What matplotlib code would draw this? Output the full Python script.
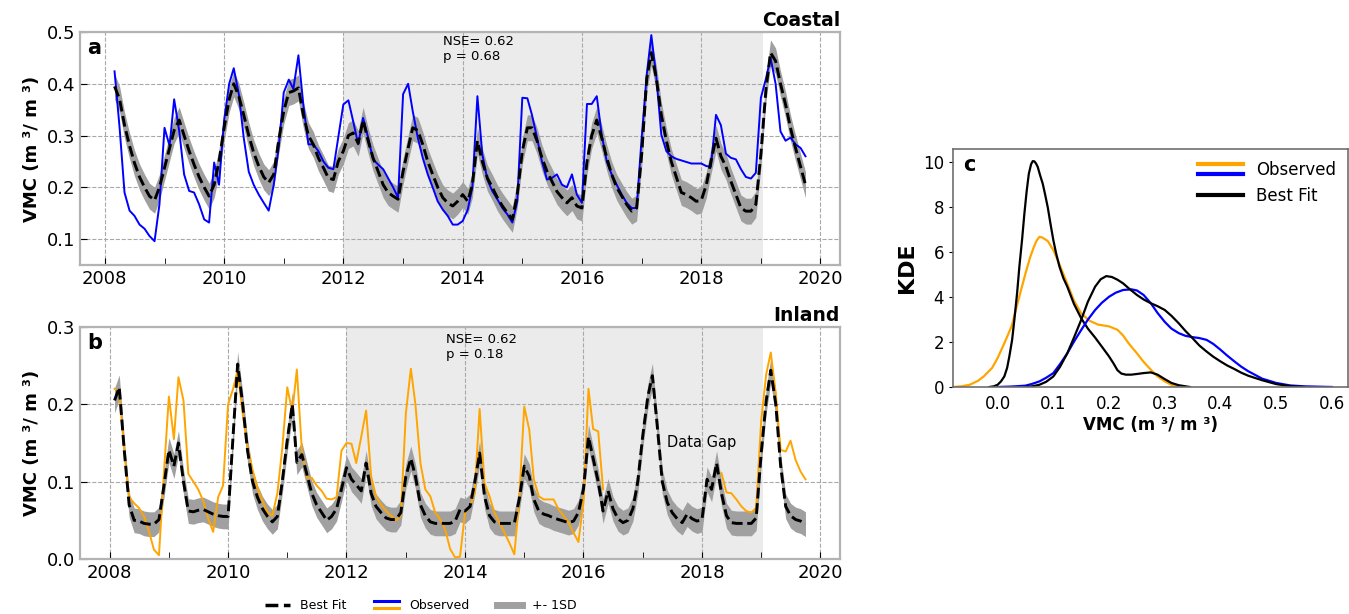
import numpy as np
import pandas as pd
import matplotlib
matplotlib.use("Agg")
import matplotlib.pyplot as plt
import matplotlib.dates as mdates
from matplotlib.lines import Line2D
from matplotlib.legend_handler import HandlerBase

nan = np.nan

# ---------- data ----------
# coastal: monthly, Mar 2008 - Oct 2019
coastal_start, coastal_end = "2008-03-01", "2019-10-01"
coastal_best = [
    0.395, 0.37, 0.32, 0.28, 0.247, 0.22, 0.20, 0.183, 0.175, 0.20,
    0.238, 0.276, 0.31, 0.33, 0.30, 0.27, 0.244, 0.22, 0.20, 0.183, 0.205, 0.25,
    0.315, 0.37, 0.40, 0.376, 0.34, 0.30, 0.267, 0.241, 0.22, 0.209, 0.225, 0.29,
    0.347, 0.383, 0.386, 0.392, 0.34, 0.30, 0.283, 0.257, 0.238, 0.218, 0.215, 0.25,
    0.27, 0.30, 0.305, 0.285, 0.33, 0.29, 0.257, 0.231, 0.205, 0.19, 0.183, 0.177,
    0.231, 0.276, 0.315, 0.31, 0.283, 0.25, 0.225, 0.20, 0.18, 0.17, 0.164, 0.173,
    0.186, 0.173, 0.205, 0.29, 0.25, 0.218, 0.20, 0.18, 0.164, 0.151, 0.138, 0.186,
    0.27, 0.315, 0.315, 0.29, 0.257, 0.231, 0.212, 0.192, 0.18, 0.17, 0.18, 0.164,
    0.16, 0.25, 0.30, 0.33, 0.296, 0.257, 0.225, 0.20, 0.183, 0.167, 0.154, 0.16,
    0.264, 0.41, 0.46, 0.41, 0.34, 0.29, 0.25, 0.22, 0.19, 0.186, 0.18, 0.173,
    0.175, 0.205, 0.25, 0.295, 0.26, 0.24, 0.212, 0.186, 0.16, 0.154, 0.154, 0.167,
    0.264, 0.39, 0.46, 0.444, 0.40, 0.36, 0.315, 0.276, 0.24, 0.205,
]
coastal_obs = [
    0.424, 0.315, 0.19, 0.155, 0.145, 0.128, 0.12, 0.106, 0.096, 0.167,
    0.315, 0.28, 0.37, 0.309, 0.225, 0.193, 0.19, 0.167, 0.138, 0.132, 0.248, 0.205,
    0.33, 0.40, 0.43, 0.38, 0.296, 0.23, 0.205, 0.186, 0.17, 0.155, 0.205, 0.276,
    0.383, 0.408, 0.39, 0.455, 0.36, 0.283, 0.283, 0.27, 0.25, 0.238, 0.235, 0.296,
    0.36, 0.368, 0.328, 0.283, 0.334, 0.296, 0.254, 0.244, 0.235, 0.218, 0.20, 0.18,
    0.38, 0.40, 0.347, 0.296, 0.257, 0.225, 0.20, 0.173, 0.157, 0.145, 0.128, 0.128,
    0.135, 0.157, 0.20, 0.376, 0.264, 0.215, 0.193, 0.177, 0.16, 0.148, 0.132, 0.173,
    0.373, 0.372, 0.34, 0.296, 0.25, 0.215, 0.218, 0.225, 0.205, 0.20, 0.225, 0.186,
    0.17, 0.361, 0.361, 0.376, 0.302, 0.25, 0.225, 0.205, 0.186, 0.17, 0.16, 0.16,
    0.296, 0.418, 0.494, 0.412, 0.302, 0.27, 0.26, 0.255, 0.252, 0.249, 0.246, 0.246,
    0.246, 0.241, 0.24, 0.34, 0.32, 0.265, 0.257, 0.254, 0.235, 0.22, 0.217, 0.228,
    0.373, 0.41, 0.45, 0.40, 0.308, 0.29, 0.296, 0.283, 0.276, 0.26,
]
coastal_sd = 0.025

# inland: monthly, Feb 2008 - Oct 2019
inland_start, inland_end = "2008-02-01", "2019-10-01"
inland_best = [
    0.205, 0.222, 0.14, 0.07, 0.05, 0.049, 0.046, 0.045, 0.045, 0.051, 0.094,
    0.141, 0.12, 0.15, 0.10, 0.062, 0.061, 0.063, 0.064, 0.061, 0.058, 0.056, 0.055,
    0.055, 0.16, 0.252, 0.20, 0.14, 0.10, 0.08, 0.065, 0.055, 0.048, 0.055, 0.10,
    0.154, 0.20, 0.125, 0.135, 0.11, 0.085, 0.07, 0.06, 0.05, 0.055, 0.065, 0.09,
    0.118, 0.103, 0.096, 0.088, 0.124, 0.085, 0.068, 0.06, 0.053, 0.051, 0.051, 0.06,
    0.107, 0.13, 0.107, 0.07, 0.056, 0.048, 0.046, 0.046, 0.046, 0.046, 0.049, 0.064,
    0.062, 0.068, 0.098, 0.137, 0.081, 0.056, 0.048, 0.046, 0.046, 0.046, 0.046, 0.077,
    0.12, 0.107, 0.077, 0.062, 0.058, 0.056, 0.053, 0.051, 0.049, 0.047, 0.049, 0.06,
    0.09, 0.158, 0.13, 0.10, 0.062, 0.088, 0.065, 0.052, 0.047, 0.05, 0.065, 0.10,
    0.16, 0.21, 0.237, 0.17, 0.10, 0.073, 0.06, 0.052, 0.047, 0.058, 0.052, 0.049,
    0.051, 0.103, 0.09, 0.124, 0.085, 0.056, 0.047, 0.046, 0.046, 0.046, 0.046, 0.053,
    0.137, 0.205, 0.244, 0.20, 0.12, 0.068, 0.056, 0.051, 0.049, 0.045,
]
inland_obs = [
    0.22, 0.215, 0.14, 0.08, 0.072, 0.066, 0.055, 0.035, 0.012, 0.005, 0.11,
    0.21, 0.155, 0.235, 0.205, 0.11, 0.10, 0.09, 0.075, 0.052, 0.035, 0.08, 0.095,
    0.20, 0.22, 0.244, 0.188, 0.145, 0.115, 0.092, 0.075, 0.06, 0.056, 0.085, 0.143,
    0.222, 0.19, 0.245, 0.14, 0.105, 0.105, 0.095, 0.088, 0.078, 0.077, 0.08, 0.14,
    0.15, 0.149, 0.124, 0.158, 0.192, 0.107, 0.081, 0.07, 0.062, 0.056, 0.05, 0.056,
    0.188, 0.246, 0.20, 0.124, 0.09, 0.081, 0.06, 0.051, 0.038, 0.013, 0.002, 0.003,
    0.06, 0.068, 0.085, 0.194, 0.098, 0.081, 0.06, 0.047, 0.034, 0.021, 0.006, 0.077,
    0.197, 0.167, 0.103, 0.081, 0.077, 0.077, 0.077, 0.064, 0.056, 0.047, 0.034, 0.022,
    0.073, 0.22, 0.168, 0.165, 0.09, nan, nan, nan, nan, nan, nan, nan,
    nan, nan, nan, nan, nan, nan, nan, nan, nan, nan, nan, nan,
    nan, nan, nan, nan, 0.111, 0.086, 0.085, 0.077, 0.068, 0.062, 0.06, 0.066,
    0.179, 0.239, 0.267, 0.214, 0.141, 0.139, 0.153, 0.128, 0.113, 0.103,
]
inland_sd = 0.016

calib_start, calib_end = "2012-01-01", "2019-01-15"

# KDE curves (panel c)
kde_x_inland_obs = [-0.08, -0.065, -0.05, -0.035, -0.025, -0.01, 0.0, 0.012, 0.025, 0.037, 0.05,
                    0.058, 0.065, 0.07, 0.075, 0.08, 0.09, 0.1, 0.112, 0.125, 0.137,
                    0.15, 0.165, 0.18, 0.2, 0.215, 0.225, 0.235, 0.25, 0.262, 0.275,
                    0.287, 0.3, 0.312, 0.325]
kde_y_inland_obs = [0.0, 0.03, 0.1, 0.28, 0.47, 0.85, 1.29, 1.95, 2.7, 3.85, 5.06,
                    5.75, 6.24, 6.52, 6.69, 6.66, 6.5, 6.1, 5.4, 4.6, 3.85,
                    3.28, 2.95, 2.78, 2.7, 2.55, 2.3, 1.95, 1.5, 1.12, 0.77,
                    0.47, 0.25, 0.1, 0.03]
kde_x_inland_fit = [-0.015, -0.007, 0.0, 0.006, 0.012, 0.017, 0.021, 0.026, 0.03, 0.035, 0.039,
                    0.044, 0.048, 0.052, 0.056, 0.06, 0.063, 0.066, 0.069, 0.072, 0.076,
                    0.081, 0.085, 0.09, 0.095, 0.1, 0.105, 0.111, 0.118, 0.125, 0.137,
                    0.15, 0.162, 0.175, 0.187, 0.2, 0.208, 0.215, 0.222, 0.23, 0.24,
                    0.25, 0.262, 0.275, 0.287, 0.3, 0.312, 0.325, 0.345]
kde_y_inland_fit = [0.0, 0.03, 0.1, 0.25, 0.47, 0.85, 1.36, 2.1, 2.99, 4.2, 5.36,
                    6.6, 7.72, 8.7, 9.5, 9.92, 10.06, 10.05, 9.95, 9.8, 9.45,
                    9.05, 8.6, 8.0, 7.25, 6.54, 5.95, 5.36, 4.85, 4.47, 3.7,
                    3.06, 2.6, 2.2, 1.8, 1.36, 1.05, 0.75, 0.6, 0.55, 0.55,
                    0.58, 0.62, 0.65, 0.55, 0.35, 0.18, 0.08, 0.0]
kde_x_coastal_obs = [0.0, 0.025, 0.05, 0.062, 0.075, 0.087, 0.1, 0.112, 0.125, 0.137, 0.15,
                     0.162, 0.175, 0.187, 0.2, 0.212, 0.225, 0.24, 0.25, 0.262, 0.275,
                     0.287, 0.3, 0.312, 0.325, 0.337, 0.35, 0.362, 0.375, 0.387, 0.4,
                     0.412, 0.425, 0.437, 0.45, 0.475, 0.5, 0.525, 0.55, 0.6]
kde_y_coastal_obs = [0.0, 0.02, 0.06, 0.14, 0.25, 0.41, 0.62, 1.02, 1.5, 2.02, 2.54,
                     3.0, 3.43, 3.75, 4.02, 4.2, 4.32, 4.35, 4.3, 4.1, 3.73,
                     3.3, 2.9, 2.6, 2.4, 2.28, 2.22, 2.18, 2.1, 1.92, 1.66,
                     1.4, 1.14, 0.91, 0.7, 0.37, 0.18, 0.07, 0.03, 0.0]
kde_x_coastal_fit = [0.05, 0.062, 0.075, 0.087, 0.1, 0.112, 0.125, 0.137, 0.15, 0.162, 0.175,
                     0.185, 0.195, 0.205, 0.215, 0.225, 0.237, 0.25, 0.262, 0.275, 0.287,
                     0.3, 0.312, 0.325, 0.337, 0.35, 0.362, 0.375, 0.387, 0.4, 0.412,
                     0.425, 0.437, 0.45, 0.475, 0.5, 0.525, 0.55]
kde_y_coastal_fit = [0.0, 0.03, 0.1, 0.23, 0.47, 0.9, 1.5, 2.2, 2.99, 3.8, 4.47,
                     4.8, 4.94, 4.9, 4.78, 4.62, 4.36, 4.1, 3.9, 3.73, 3.6,
                     3.43, 3.17, 2.84, 2.5, 2.17, 1.85, 1.58, 1.35, 1.14, 0.96,
                     0.8, 0.64, 0.5, 0.3, 0.13, 0.04, 0.0]


class StackedLines(HandlerBase):
    # draws the lines of a tuple handle one above the other
    def create_artists(self, legend, orig_handle, xdescent, ydescent, width, height, fontsize, trans):
        arts = []
        n = len(orig_handle)
        for i, h in enumerate(orig_handle):
            y = -ydescent + height * (0.95 - 0.9 * i / max(n - 1, 1))
            arts.append(Line2D([-xdescent, -xdescent + width], [y, y], color=h.get_color(),
                               lw=h.get_linewidth(), transform=trans))
        return arts


def style_ts(ax):
    ax.axvspan(pd.Timestamp(calib_start), pd.Timestamp(calib_end), color="#ecebec", lw=0, zorder=0)
    ax.grid(True, which="major", ls="--", color="#a8a8a8", lw=0.8)
    ax.xaxis.set_major_locator(mdates.YearLocator(2))
    ax.xaxis.set_minor_locator(mdates.YearLocator(1))
    ax.xaxis.set_major_formatter(mdates.DateFormatter("%Y"))
    ax.tick_params(which="both", direction="in", length=5, labelsize=13, color="black")
    for s in ax.spines.values():
        s.set_color("#b3b3b3")
        s.set_linewidth(1.6)
    ax.set_ylabel("VMC (m ³/ m ³)", fontsize=13, fontweight="bold")


fig = plt.figure(figsize=(13.49, 6.14), dpi=100)
ax1 = fig.add_axes([0.0593, 0.5684, 0.5634, 0.3795])
ax2 = fig.add_axes([0.0593, 0.0896, 0.5634, 0.3779])
ax3 = fig.add_axes([0.7065, 0.3697, 0.2928, 0.3876])

# ---- a: coastal ----
dates_c = pd.date_range(coastal_start, coastal_end, freq="MS")
best_c = np.array(coastal_best)
ax1.fill_between(dates_c, best_c - coastal_sd, best_c + coastal_sd, color="#a0a0a0", lw=0, zorder=2)
ax1.plot(dates_c, coastal_obs, color="blue", lw=1.4, zorder=3)
ax1.plot(dates_c, best_c, "--", color="black", lw=2.1, zorder=4)
style_ts(ax1)
ax1.set_ylim(0.05, 0.5)
ax1.set_yticks([0.1, 0.2, 0.3, 0.4, 0.5])
ax1.set_title("Coastal", loc="right", fontsize=13.5, fontweight="bold", pad=4)
ax1.text(0.01, 0.975, "a", transform=ax1.transAxes, fontsize=15, fontweight="bold", va="top")
ax1.text(0.478, 0.985, "NSE= 0.62\np = 0.68", transform=ax1.transAxes, fontsize=9.5, va="top")

# ---- b: inland ----
dates_i = pd.date_range(inland_start, inland_end, freq="MS")
best_i = np.array(inland_best)
ax2.fill_between(dates_i, best_i - inland_sd, best_i + inland_sd, color="#a0a0a0", lw=0, zorder=2)
ax2.plot(dates_i, inland_obs, color="orange", lw=1.4, zorder=3)
ax2.plot(dates_i, best_i, "--", color="black", lw=2.1, zorder=4)
style_ts(ax2)
ax2.set_ylim(0, 0.3)
ax2.set_yticks([0.0, 0.1, 0.2, 0.3])
ax2.set_title("Inland", loc="right", fontsize=13.5, fontweight="bold", pad=4)
ax2.text(0.01, 0.975, "b", transform=ax2.transAxes, fontsize=15, fontweight="bold", va="top")
ax2.text(0.482, 0.975, "NSE= 0.62\np = 0.18", transform=ax2.transAxes, fontsize=9.5, va="top")
ax2.text(pd.Timestamp("2017-06-01"), 0.151, "Data Gap", fontsize=10.5, va="center")

# ---- c: KDE ----
ax3.plot(kde_x_inland_obs, kde_y_inland_obs, color="orange", lw=1.6)
ax3.plot(kde_x_inland_fit, kde_y_inland_fit, color="black", lw=1.6)
ax3.plot(kde_x_coastal_obs, kde_y_coastal_obs, color="blue", lw=1.6)
ax3.plot(kde_x_coastal_fit, kde_y_coastal_fit, color="black", lw=1.6)
ax3.set_xlim(-0.08, 0.629)
ax3.set_ylim(0, 10.6)
ax3.set_xticks([0.0, 0.1, 0.2, 0.3, 0.4, 0.5, 0.6])
ax3.set_yticks([0, 2, 4, 6, 8, 10])
ax3.tick_params(axis="y", direction="out", length=3, labelsize=12)
ax3.tick_params(axis="x", length=0, labelsize=12, pad=6)
for s in ax3.spines.values():
    s.set_color("#6e6e6e")
    s.set_linewidth(1.2)
ax3.set_ylabel("KDE", fontsize=16, fontweight="bold")
ax3.set_xlabel("VMC (m ³/ m ³)", fontsize=12, fontweight="bold", labelpad=2)
ax3.text(0.025, 0.975, "c", transform=ax3.transAxes, fontsize=15, fontweight="bold", va="top")
h_obs_c = (Line2D([], [], color="orange", lw=3), Line2D([], [], color="blue", lw=3))
h_fit_c = Line2D([], [], color="black", lw=3)
ax3.legend([h_obs_c, h_fit_c], ["Observed", "Best Fit"], handler_map={tuple: StackedLines()},
           loc="upper right", frameon=False, fontsize=12, handlelength=2.7,
           borderaxespad=0.3, labelspacing=0.5)

# ---- shared legend ----
h_fit = Line2D([], [], color="black", ls="--", lw=2.5)
h_obs = (Line2D([], [], color="blue", lw=2.2), Line2D([], [], color="orange", lw=2.2))
h_sd = Line2D([], [], color="#a0a0a0", lw=5)
fig.legend([h_fit, h_obs, h_sd], ["Best Fit", "Observed", "+- 1SD"],
           handler_map={tuple: StackedLines()}, loc="center", bbox_to_anchor=(0.312, 0.014),
           ncol=3, frameon=False, fontsize=9, columnspacing=2.2)

fig.savefig("out.png", dpi=100)
